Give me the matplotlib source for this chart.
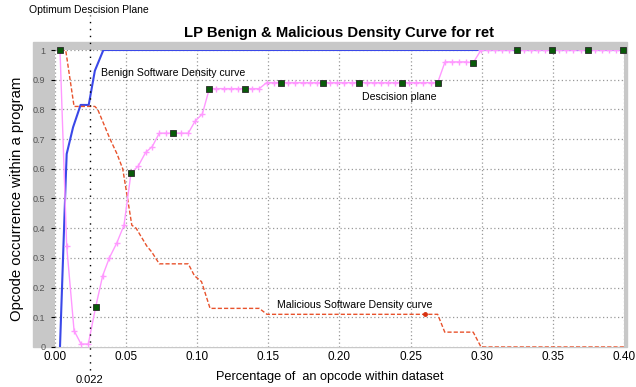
import matplotlib.pyplot as plt
from matplotlib.patches import Rectangle

plt.rcParams['font.family'] = ['Liberation Sans', 'DejaVu Sans']

# benign software density curve
benign_x = [0.0035, 0.0075, 0.0082, 0.0127, 0.018, 0.0237, 0.028, 0.034, 0.40]
benign_y = [0.0, 0.56, 0.65, 0.74, 0.815, 0.815, 0.93, 1.0, 1.0]

# malicious software density curve
mal_x = [0.004, 0.0075, 0.0134, 0.028, 0.030, 0.0387, 0.0436, 0.0476, 0.051,
         0.054, 0.057, 0.0645, 0.068, 0.0733, 0.0937, 0.098, 0.103, 0.109,
         0.1436, 0.149, 0.26, 0.269, 0.274, 0.294, 0.2995, 0.40]
mal_y = [1.0, 1.0, 0.81, 0.81, 0.80, 0.70, 0.65, 0.60, 0.50,
         0.41, 0.40, 0.34, 0.32, 0.28, 0.28, 0.24, 0.22, 0.13,
         0.13, 0.11, 0.11, 0.11, 0.05, 0.05, 0.0, 0.0]

# decision plane curve
dec_x = [0.0035, 0.0082, 0.0134, 0.0183, 0.0234, 0.0286, 0.0335, 0.0382,
         0.0434, 0.0485, 0.0534, 0.0586, 0.0637, 0.0684, 0.0733, 0.0783,
         0.0832, 0.0884, 0.0937, 0.0984, 0.1036, 0.1085, 0.1135, 0.1185,
         0.1235, 0.1285, 0.1336, 0.1385, 0.1436, 0.1488, 0.1539, 0.1589,
         0.164, 0.169, 0.174, 0.179, 0.184, 0.1886, 0.1935, 0.1985, 0.2035,
         0.2085, 0.2139, 0.219, 0.224, 0.229, 0.234, 0.239, 0.2442, 0.249,
         0.254, 0.259, 0.264, 0.269, 0.2742, 0.279, 0.284, 0.289, 0.294,
         0.2995, 0.3045, 0.3095, 0.3145, 0.3195, 0.3245, 0.3295, 0.3345,
         0.3395, 0.3445, 0.3496, 0.3545, 0.3595, 0.3645, 0.3695, 0.3745,
         0.3795, 0.3845, 0.3895, 0.3945, 0.3995]
dec_y = [1.0, 0.34, 0.055, 0.01, 0.01, 0.135, 0.24, 0.30,
         0.35, 0.41, 0.585, 0.61, 0.655, 0.675, 0.72, 0.72,
         0.72, 0.72, 0.72, 0.76, 0.785, 0.87, 0.87, 0.87,
         0.87, 0.87, 0.87, 0.87, 0.87, 0.89, 0.89, 0.89,
         0.89, 0.89, 0.89, 0.89, 0.89, 0.89, 0.89, 0.89, 0.89,
         0.89, 0.89, 0.89, 0.89, 0.89, 0.89, 0.89, 0.89, 0.89,
         0.89, 0.89, 0.89, 0.89, 0.96, 0.96, 0.96, 0.96, 0.957,
         1.0, 1.0, 1.0, 1.0, 1.0, 1.0, 1.0, 1.0,
         1.0, 1.0, 1.0, 1.0, 1.0, 1.0, 1.0, 1.0,
         1.0, 1.0, 1.0, 1.0, 1.0]

# green square samples on the decision curve
sq_x = [0.0035, 0.0286, 0.0534, 0.0832, 0.1085, 0.1336, 0.1589, 0.1886,
        0.2139, 0.2442, 0.269, 0.294, 0.3245, 0.3496, 0.3745, 0.3995]
sq_y = [1.0, 0.135, 0.585, 0.72, 0.87, 0.87, 0.89, 0.89,
        0.89, 0.89, 0.89, 0.957, 1.0, 1.0, 1.0, 1.0]

optimum_x = 0.0245
xticks = [0.0, 0.05, 0.10, 0.15, 0.20, 0.25, 0.30, 0.35, 0.40]
yticks = [0, 0.1, 0.2, 0.3, 0.4, 0.5, 0.6, 0.7, 0.8, 0.9, 1]

fig = plt.figure(figsize=(6.36, 3.87), dpi=100)
# grey frame behind the plot area (left and top band)
fig.patches.append(Rectangle((0.052, 0.1034), 0.934, 0.788,
                             transform=fig.transFigure, color='#c8c8c8',
                             zorder=-1))
ax = fig.add_axes([0.0865, 0.1034, 0.8946, 0.7674])
ax.set_facecolor('white')

ax.plot(benign_x, benign_y, color='#3a48e8', lw=1.5, zorder=3)
ax.plot(mal_x, mal_y, color='#e8522c', lw=1.0, ls=(0, (3, 1.5)), zorder=4)
ax.plot([0.26], [0.11], marker='o', ms=2.5, color='#d83010', zorder=5)
ax.plot(dec_x, dec_y, color='#ff99ff', lw=1.0, marker='+', ms=5, mew=1.0,
        zorder=4)
ax.plot(sq_x, sq_y, ls='none', marker='s', ms=4, mfc='#0a5a0a',
        mec='#2a2a2a', mew=0.6, zorder=6, clip_on=False)

ax.plot([optimum_x, optimum_x], [-0.077, 1.118], color='black', lw=1,
        ls=(0, (1, 4)), clip_on=False, zorder=5)

ax.set_xlim(0, 0.40)
ax.set_ylim(0, 1)
ax.set_xticks(xticks)
ax.set_xticklabels(['{:.2f}'.format(t) for t in xticks], fontsize=8.5)
ax.set_yticks(yticks)
ax.set_yticklabels([('%g' % t) for t in yticks], fontsize=6.5, color='#555555')
ax.tick_params(axis='y', length=3, pad=4)
ax.tick_params(axis='x', length=0, pad=3)
ax.grid(True, color='#999999', ls=(0, (1, 2)), lw=0.9)
for s in ax.spines.values():
    s.set_visible(False)

ax.set_xlabel('Percentage of  an opcode within dataset', fontsize=9.2,
              labelpad=6)
ax.xaxis.label.set_x(0.483)
ax.set_ylabel('Opcode occurrence within a program', fontsize=10.7,
              labelpad=6)

ax.text(0.2, 1.057, 'LP Benign & Malicious Density Curve for ret',
        fontsize=10.7, fontweight='bold', ha='center', va='center')
ax.text(-0.018, 1.135, 'Optimum Descision Plane', fontsize=7.5, ha='left',
        va='center', clip_on=False)
ax.text(optimum_x, -0.111, '0.022', fontsize=8, ha='center', va='center',
        clip_on=False)
ax.text(0.0323, 0.9226, 'Benign Software Density curve', fontsize=7.6,
        ha='left', va='center')
ax.text(0.2158, 0.842, 'Descision plane', fontsize=7.6, ha='left',
        va='center')
ax.text(0.156, 0.141, 'Malicious Software Density curve', fontsize=7.6,
        ha='left', va='center')

fig.savefig('out.png', dpi=100)
